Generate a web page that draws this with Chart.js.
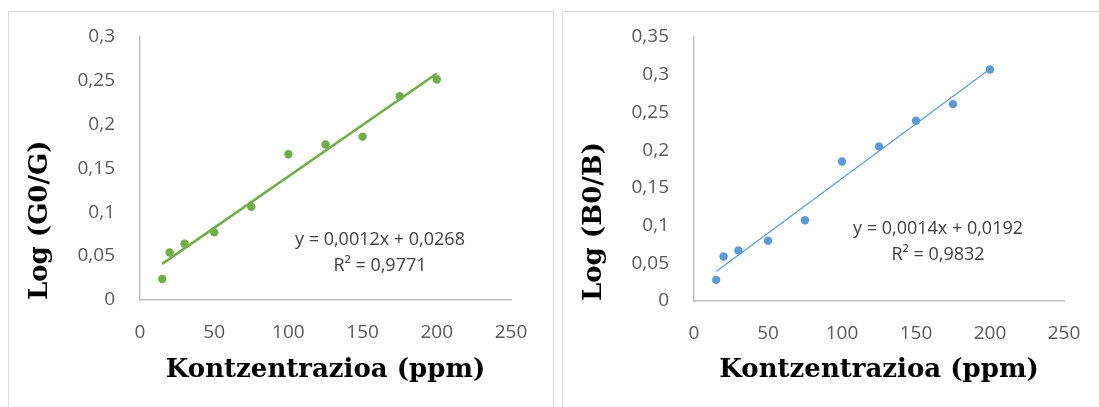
<!DOCTYPE html>
<html><head><meta charset="utf-8">
<script src="https://cdn.jsdelivr.net/npm/chart.js@4.4.1/dist/chart.umd.min.js"></script>
<style>
html,body{margin:0;padding:0;background:#fff;width:1099px;height:407px;overflow:hidden;}
.panel{position:absolute;border:1px solid #d9d9d9;box-sizing:border-box;}
#p1{left:8px;top:11px;width:546px;height:430px;}
#p2{left:562px;top:11px;width:560px;height:430px;}
canvas{position:absolute;top:0;}
#c1{left:0;}
#c2{left:553px;}
</style></head><body>
<div class="panel" id="p1"></div><div class="panel" id="p2"></div>
<canvas id="c1" width="553" height="407"></canvas>
<canvas id="c2" width="546" height="407"></canvas>
<script>
// ---- data ----
const concentrations = [15, 20, 30, 50, 75, 100, 125, 150, 175, 200];
const logG0G = [0.024, 0.054, 0.064, 0.077, 0.106, 0.166, 0.177, 0.186, 0.232, 0.251];
const logB0B = [0.028, 0.059, 0.067, 0.080, 0.107, 0.185, 0.205, 0.239, 0.261, 0.307];
const xTickLabels = ['0', '50', '100', '150', '200', '250'];
const yTickLabelsG = ['0', '0,05', '0,1', '0,15', '0,2', '0,25', '0,3'];
const yTickLabelsB = ['0', '0,05', '0,1', '0,15', '0,2', '0,25', '0,3', '0,35'];
const xTitle = 'Kontzentrazioa (ppm)';
const yTitleG = 'Log (G0/G)';
const yTitleB = 'Log (B0/B)';
const eqG = ['y = 0,0012x + 0,0268', 'R² = 0,9771'];
const eqB = ['y = 0,0014x + 0,0192', 'R² = 0,9832'];

function linReg(xs, ys) {
  const n = xs.length;
  const mx = xs.reduce((a, b) => a + b, 0) / n;
  const my = ys.reduce((a, b) => a + b, 0) / n;
  let sxy = 0, sxx = 0;
  for (let i = 0; i < n; i++) { sxy += (xs[i] - mx) * (ys[i] - my); sxx += (xs[i] - mx) ** 2; }
  const m = sxy / sxx;
  return { m, b: my - m * mx };
}

const eqPlugin = {
  id: 'eq',
  afterDatasetsDraw(chart, args, opts) {
    const { ctx, scales: { x, y } } = chart;
    const px = x.getPixelForValue(opts.at[0]);
    const py = y.getPixelForValue(opts.at[1]);
    ctx.save();
    ctx.font = '18px "Open Sans"';
    ctx.fillStyle = '#404040';
    ctx.textAlign = 'center';
    ctx.textBaseline = 'middle';
    opts.lines.forEach((t, i) => ctx.fillText(t, px, py + i * opts.gap));
    ctx.restore();
  }
};

function makeChart(id, ys, color, lineW, yLabels, yTitle, eq, cfg) {
  const xMin = Math.min(...concentrations), xMax = Math.max(...concentrations);
  const r = linReg(concentrations, ys);
  const yMax = (yLabels.length - 1) * 0.05;
  new Chart(document.getElementById(id), {
    type: 'scatter',
    data: {
      datasets: [
        {
          data: [{ x: xMin, y: r.m * xMin + r.b }, { x: xMax, y: r.m * xMax + r.b }],
          showLine: true, borderColor: color, borderWidth: lineW, pointRadius: 0, order: 0
        },
        {
          data: concentrations.map((c, i) => ({ x: c, y: ys[i] })),
          backgroundColor: color, borderColor: color, pointRadius: 4.2, borderWidth: 0, order: 1
        }
      ]
    },
    options: {
      responsive: false, animation: false,
      layout: { padding: { top: cfg.top, right: cfg.right, bottom: 0, left: 0 } },
      plugins: { legend: { display: false }, tooltip: { enabled: false },
        eq: { lines: eq, at: cfg.eqAt, gap: 26.7 } },
      scales: {
        x: {
          type: 'linear', min: 0, max: 250,
          afterBuildTicks: s => { s.ticks = xTickLabels.map(v => ({ value: Number(v) })); },
          grid: { display: false },
          border: { display: true, color: '#bfbfbf', width: 1.5 },
          ticks: { color: '#595959', font: { family: 'Open Sans', size: 19 }, padding: 13,
                   callback: (v, i) => xTickLabels[i] },
          title: { display: true, text: xTitle, color: '#000',
                   font: { family: 'DejaVu Serif', size: 26, weight: 'bold' }, padding: { top: 0, bottom: 21 } },
          afterFit: s => { s.height = 407 - cfg.bottom; }
        },
        y: {
          type: 'linear', min: 0, max: yMax,
          afterBuildTicks: s => { s.ticks = yLabels.map((v, i) => ({ value: i * 0.05 })); },
          grid: { display: false },
          border: { display: true, color: '#bfbfbf', width: 1.5 },
          ticks: { color: '#595959', font: { family: 'Open Sans', size: 19 }, padding: 17,
                   callback: (v, i) => yLabels[i] },
          title: { display: true, text: yTitle, color: '#000', align: 'start',
                   font: { family: 'DejaVu Serif', size: 26, weight: 'bold' }, padding: { top: cfg.ytp, bottom: 0 } },
          afterFit: s => { s.width = cfg.left; }
        }
      }
    },
    plugins: [eqPlugin]
  });
}

makeChart('c1', logG0G, '#70ad47', 2.5, yTickLabelsG, yTitleG, eqG,
  { top: 36.5, right: 42, bottom: 300, left: 140, ytp: 24.4, eqAt: [161.7, 0.069] });
makeChart('c2', logB0B, '#5b9bd5', 1.2, yTickLabelsB, yTitleB, eqB,
  { top: 37, right: 35, bottom: 301, left: 141, ytp: 25.4, eqAt: [164.9, 0.096] });
</script>
</body></html>
